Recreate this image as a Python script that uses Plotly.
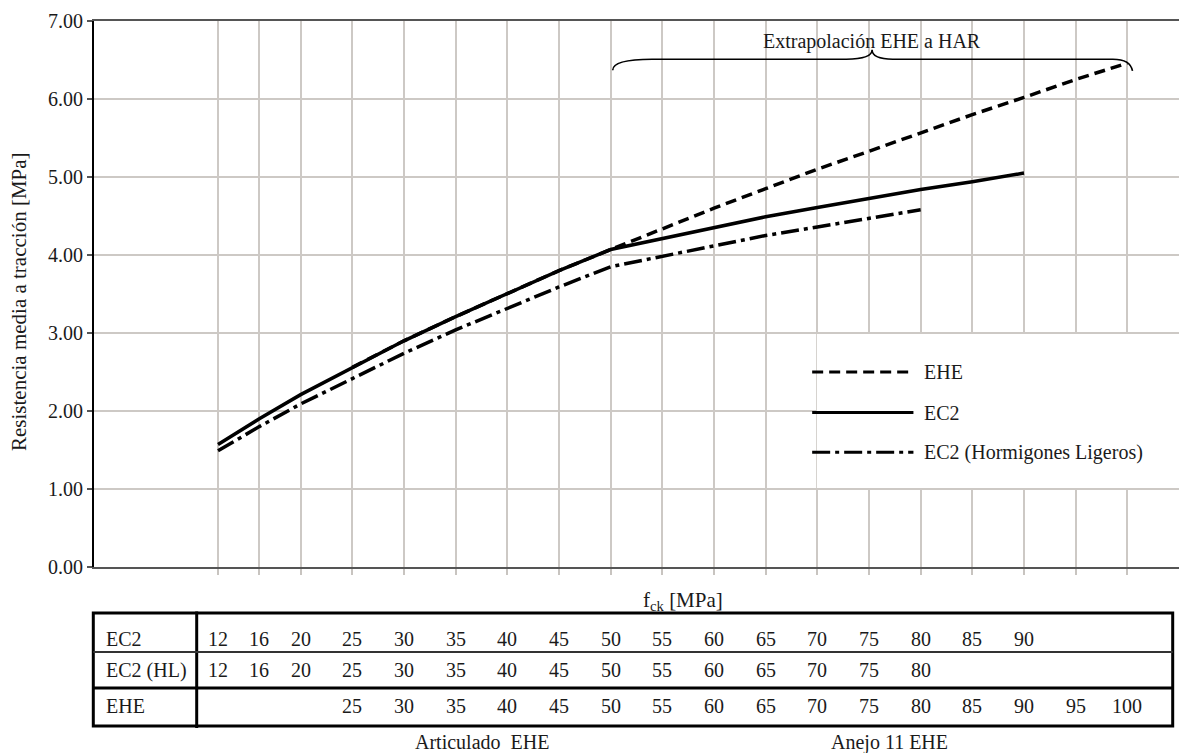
import plotly.graph_objects as go

# ---------------- data ----------------
fck_ec2 = [12, 16, 20, 25, 30, 35, 40, 45, 50, 55, 60, 65, 70, 75, 80, 85, 90]
ec2 = [1.57, 1.90, 2.21, 2.56, 2.90, 3.21, 3.51, 3.80, 4.07, 4.21, 4.35, 4.49, 4.61, 4.73, 4.84, 4.94, 5.05]

fck_hl = [12, 16, 20, 25, 30, 35, 40, 45, 50, 55, 60, 65, 70, 75, 80]
ec2_hl = [1.49, 1.80, 2.09, 2.42, 2.74, 3.04, 3.32, 3.59, 3.85, 3.98, 4.12, 4.25, 4.36, 4.47, 4.58]

fck_ehe = [25, 30, 35, 40, 45, 50, 55, 60, 65, 70, 75, 80, 85, 90, 95, 100]
ehe = [2.56, 2.90, 3.21, 3.51, 3.80, 4.07, 4.34, 4.60, 4.85, 5.10, 5.33, 5.57, 5.80, 6.02, 6.25, 6.46]

series_names = ["EHE", "EC2", "EC2 (Hormigones Ligeros)"]
row_labels = ["EC2", "EC2 (HL)", "EHE"]
y_ticks = [0, 1, 2, 3, 4, 5, 6, 7]

# ---------------- styles ----------------
FONT = "Liberation Serif, Times New Roman, serif"
TXT = "#1a1a1a"
GRID = "#cdc9c5"
FS = 20
DASH_EHE = "11px,6px"
DASH_HL = "18px,5px,4px,5px"
LW = 3.5

W, H = 1179, 753
ML, MR, MT, MB = 94, 0, 21, 186
PH = H - MT - MB
PW = W - ML - MR


def py(p):  # pixel row -> paper y
    return (H - MB - p) / PH


def px(p):  # pixel column -> paper x
    return (p - ML) / PW


fig = go.Figure()

fig.add_trace(go.Scatter(x=fck_ehe, y=ehe, mode="lines", name=series_names[0],
                         line=dict(color="black", width=LW, dash=DASH_EHE), showlegend=False))
fig.add_trace(go.Scatter(x=fck_hl, y=ec2_hl, mode="lines", name=series_names[2],
                         line=dict(color="black", width=LW, dash=DASH_HL), showlegend=False))
fig.add_trace(go.Scatter(x=fck_ec2, y=ec2, mode="lines", name=series_names[1],
                         line=dict(color="black", width=LW), showlegend=False))

all_fck = sorted(set(fck_ec2) | set(fck_hl) | set(fck_ehe))

shapes = []
annotations = []

# white legend panel
shapes.append(dict(type="rect", xref="x", yref="y", x0=69.95, x1=106, y0=1.012, y1=2.988,
                   fillcolor="white", line=dict(width=0), layer="between"))

# custom legend (long sample lines)
leg_items = [(series_names[0], DASH_EHE, 2.50, 79.2),
             (series_names[1], "solid", 1.98, 79.3),
             (series_names[2], DASH_HL, 1.47, 79.3)]
for name, dash, yy, xe in leg_items:
    shapes.append(dict(type="line", xref="x", yref="y", x0=69.5, x1=xe, y0=yy, y1=yy,
                       line=dict(color="black", width=3, dash=dash), layer="above"))
    annotations.append(dict(x=80.1, y=yy, xref="x", yref="y", text=name, showarrow=False,
                            xanchor="left", yanchor="middle",
                            font=dict(family=FONT, size=FS, color=TXT)))

# brace over the extrapolated range
x_a, x_b = fck_ehe[fck_ehe.index(50)], fck_ehe[-1]
x_m = (x_a + x_b) / 2 + 0.3
brace = (f"M{x_a + 0.2},6.37 Q{x_a + 0.2},6.51 {x_a + 4},6.51 L{x_m - 2.5},6.51 "
         f"Q{x_m},6.51 {x_m},6.63 Q{x_m},6.51 {x_m + 2},6.51 L{x_b - 1.4},6.51 "
         f"Q{x_b + 0.3},6.51 {x_b + 0.5},6.36")
shapes.append(dict(type="path", xref="x", yref="y", path=brace,
                   line=dict(color="black", width=1.6), layer="above"))
annotations.append(dict(x=x_m, y=6.74, xref="x", yref="y", text="Extrapolación EHE a HAR",
                        showarrow=False, xanchor="center", yanchor="middle",
                        font=dict(family=FONT, size=FS, color=TXT)))

# y-axis title
annotations.append(dict(x=px(19), y=py(302), xref="paper", yref="paper",
                        text="Resistencia media a tracción [MPa]", textangle=-90,
                        showarrow=False, xanchor="center", yanchor="middle",
                        font=dict(family=FONT, size=FS + 1, color=TXT)))

# x-axis title
annotations.append(dict(x=57.0, y=py(601), xref="x", yref="paper",
                        text="f<sub>ck</sub> [MPa]", showarrow=False,
                        xanchor="center", yanchor="middle",
                        font=dict(family=FONT, size=FS + 1, color=TXT)))

# table frame
t_top, t_s1, t_s2, t_bot = py(613), py(652), py(688), py(726)
t_left, t_col, t_right = px(93.3), px(196.7), px(1172.7)
shapes.append(dict(type="rect", xref="paper", yref="paper", x0=t_left, x1=t_right,
                   y0=t_bot, y1=t_top, line=dict(color="black", width=3)))
shapes.append(dict(type="line", xref="paper", yref="paper", x0=t_col, x1=t_col,
                   y0=py(728), y1=py(611.5), line=dict(color="black", width=3)))
shapes.append(dict(type="line", xref="paper", yref="paper", x0=t_left, x1=t_right,
                   y0=t_s1, y1=t_s1, line=dict(color="#333333", width=2)))
shapes.append(dict(type="line", xref="paper", yref="paper", x0=t_left, x1=t_right,
                   y0=t_s2, y1=t_s2, line=dict(color="black", width=3)))

row_y = [py(639), py(670), py(706)]
row_vals = [fck_ec2, fck_hl, fck_ehe]
for lab, yy, vals in zip(row_labels, row_y, row_vals):
    annotations.append(dict(x=px(104), y=yy, xref="paper", yref="paper", text=lab,
                            showarrow=False, xanchor="left", yanchor="middle",
                            font=dict(family=FONT, size=FS, color=TXT)))
    for v in vals:
        annotations.append(dict(x=v, y=yy, xref="x", yref="paper", text=str(v),
                                showarrow=False, xanchor="center", yanchor="middle",
                                font=dict(family=FONT, size=FS, color=TXT)))

annotations.append(dict(x=37.5, y=py(742), xref="x", yref="paper", text="Articulado&nbsp; EHE",
                        showarrow=False, xanchor="center", yanchor="middle",
                        font=dict(family=FONT, size=FS, color=TXT)))
annotations.append(dict(x=77.0, y=py(742), xref="x", yref="paper", text="Anejo 11 EHE",
                        showarrow=False, xanchor="center", yanchor="middle",
                        font=dict(family=FONT, size=FS, color=TXT)))

fig.update_layout(
    width=W, height=H,
    margin=dict(l=ML, r=MR, t=MT, b=MB, pad=0),
    paper_bgcolor="white", plot_bgcolor="white",
    font=dict(family=FONT, size=FS, color=TXT),
    showlegend=False,
    shapes=shapes, annotations=annotations,
    xaxis=dict(range=[0, 105], tickmode="array", tickvals=all_fck, showticklabels=False,
               showgrid=True, gridcolor=GRID, gridwidth=1.5,
               ticks="outside", ticklen=6, tickcolor="#c8c4c0", tickwidth=1.5,
               showline=True, linecolor="#555555", linewidth=2, mirror=True,
               zeroline=False, fixedrange=True, automargin=False),
    yaxis=dict(range=[0, 7], tickmode="array", tickvals=y_ticks,
               ticktext=[f"{v:.2f}" for v in y_ticks],
               showgrid=True, gridcolor=GRID, gridwidth=1.5,
               ticks="outside", ticklen=5, tickcolor="#555555", tickwidth=1.5,
               showline=True, linecolor="black", linewidth=2,
               zeroline=False, fixedrange=True, automargin=False,
               tickfont=dict(family=FONT, size=FS, color=TXT)),
)

fig.write_html("out.html", config={"displayModeBar": False},
               post_script="document.body.style.margin='0';")
